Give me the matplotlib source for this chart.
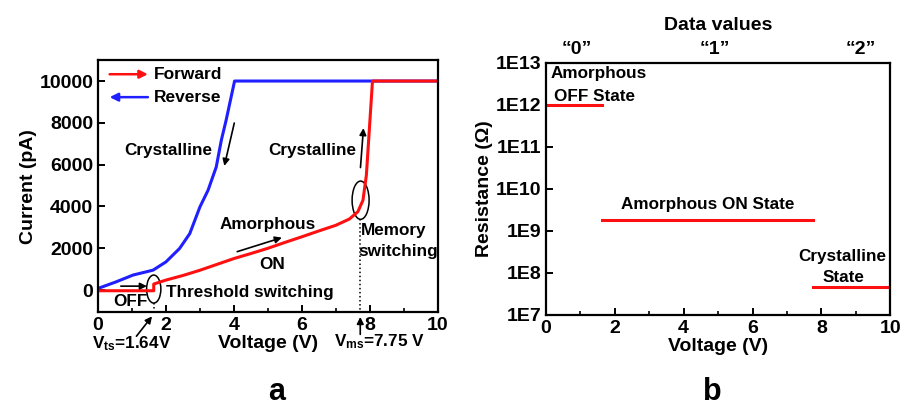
import matplotlib
matplotlib.use('Agg')
import matplotlib.pyplot as plt
import numpy as np
from matplotlib.patches import Ellipse

plt.rcParams['font.family'] = ['Liberation Sans', 'DejaVu Sans']
plt.rcParams['font.weight'] = 'bold'
plt.rcParams['mathtext.fontset'] = 'custom'
plt.rcParams['mathtext.rm'] = 'Liberation Sans:bold'
plt.rcParams['mathtext.default'] = 'rm'

# forward sweep (red)
fwd_v = [0, 0.5, 1.0, 1.5, 1.64, 1.64, 2.0, 2.5, 3.0, 3.5, 4.0, 4.5, 5.0, 5.5,
         6.0, 6.5, 7.0, 7.4, 7.65, 7.8, 7.9, 8.0, 8.08, 10]
fwd_i = [-30, -30, -30, -30, -30, 290, 480, 700, 950, 1230, 1510, 1750, 2000, 2280,
         2550, 2830, 3100, 3400, 3750, 4300, 5500, 8000, 10000, 10000]

# reverse sweep (blue)
rev_v = [0, 0.54, 1.03, 1.62, 2.0, 2.4, 2.7, 3.0, 3.24, 3.48, 3.63, 3.77, 4.02, 10]
rev_i = [80, 400, 720, 955, 1350, 1990, 2700, 3980, 4780, 5890, 7170, 8120, 10000, 10000]

# resistance states
state_v0 = [0, 1.64, 7.75]
state_v1 = [1.64, 7.75, 10]
state_r = [1e12, 1.8e9, 4.5e7]

v_ts = 1.64
v_ms = 7.75
data_labels = ['\u201c0\u201d', '\u201c1\u201d', '\u201c2\u201d']
data_label_v = [0.9, 4.9, 9.15]
r_ticks = [1e7, 1e8, 1e9, 1e10, 1e11, 1e12, 1e13]
r_ticklabels = ['1E7', '1E8', '1E9', '1E10', '1E11', '1E12', '1E13']

fig = plt.figure(figsize=(9.01, 4.09), dpi=100)
ax = fig.add_axes([0.1088, 0.237, 0.377, 0.616])
ax2 = fig.add_axes([0.606, 0.230, 0.382, 0.617])

for a in (ax, ax2):
    for s in a.spines.values():
        s.set_linewidth(1.6)
    a.tick_params(direction='in', width=1.4, length=5, labelsize=14)
    a.tick_params(which='minor', direction='in', width=1.2, length=3)
    a.set_xlim(0, 10)
    a.set_xticks([0, 2, 4, 6, 8, 10])
    a.set_xticks([1, 3, 5, 7, 9], minor=True)
    a.set_xlabel('Voltage (V)', fontsize=14, fontweight='bold', labelpad=1)

# ---- panel a
ax.plot(rev_v, rev_i, color='#1f1fff', lw=2.2)
ax.plot(fwd_v, fwd_i, color='#ff1010', lw=2.2)
ax.set_ylim(-1050, 11000)
ax.set_yticks([0, 2000, 4000, 6000, 8000, 10000])
ax.set_ylabel('Current (pA)', fontsize=14, fontweight='bold', labelpad=2)

# legend
ax.annotate('', xy=(0.155, 0.944), xytext=(0.026, 0.944), xycoords='axes fraction',
            arrowprops=dict(arrowstyle='-|>', color='#ff1010', lw=1.8, mutation_scale=12))
ax.annotate('', xy=(0.026, 0.853), xytext=(0.155, 0.853), xycoords='axes fraction',
            arrowprops=dict(arrowstyle='-|>', color='#1f1fff', lw=1.8, mutation_scale=12))
ax.text(0.163, 0.944, 'Forward', transform=ax.transAxes, fontsize=12.5, va='center')
ax.text(0.163, 0.853, 'Reverse', transform=ax.transAxes, fontsize=12.5, va='center')

tk = dict(fontsize=12.3, fontweight='bold')
ax.text(2.06, 6690, 'Crystalline', ha='center', va='center', **tk)
ax.text(6.32, 6690, 'Crystalline', ha='center', va='center', **tk)
ax.text(5.0, 3140, 'Amorphous', ha='center', va='center', **tk)
ax.text(5.13, 1240, 'ON', ha='center', va='center', **tk)
ax.text(0.96, -560, 'OFF', ha='center', va='center', **tk)
ax.text(2.01, -110, 'Threshold switching', ha='left', va='center', **tk)
ax.text(7.75, 2830, 'Memory', ha='left', va='center', **tk)
ax.text(7.65, 1830, 'switching', ha='left', va='center', **tk)

arr = dict(arrowstyle='-|>', color='black', lw=1.2, mutation_scale=10)
ax.annotate('', xy=(3.70, 5810), xytext=(4.03, 8120), arrowprops=arr)
ax.annotate('', xy=(7.82, 7880), xytext=(7.72, 5730), arrowprops=arr)
ax.annotate('', xy=(5.49, 2550), xytext=(4.02, 1800), arrowprops=arr)
ax.annotate('', xy=(1.52, 190), xytext=(0.59, 190), arrowprops=arr)
ax.annotate('', xy=(v_ts, -1150), xytext=(1.08, -2310), arrowprops=arr,
            annotation_clip=False)
ax.annotate('', xy=(v_ms - 0.03, -1150), xytext=(v_ms - 0.03, -2250), arrowprops=arr,
            annotation_clip=False)

ax.add_patch(Ellipse((v_ts, 50), 0.42, 1340, fill=False, ec='black', lw=1.1))
ax.add_patch(Ellipse((v_ms - 0.02, 4300), 0.5, 1830, fill=False, ec='black', lw=1.1))
ax.plot([v_ms - 0.03, v_ms - 0.03], [3400, -1050], ls=':', color='black', lw=1.1)
ax.plot([v_ts, v_ts], [-600, -1050], ls=':', color='black', lw=1.1)

ax.text(1.0, -2550, 'V$_{ts}$=1.64V', ha='center', va='center', fontsize=12.3,
        clip_on=False)
ax.text(8.28, -2470, 'V$_{ms}$=7.75 V', ha='center', va='center', fontsize=12.3,
        clip_on=False)

fig.text(277 / 901, 1.5 / 409, 'a', fontsize=22, fontweight='bold',
         ha='center', va='bottom')

# ---- panel b
for v0, v1, r in zip(state_v0, state_v1, state_r):
    ax2.plot([v0, v1], [r, r], color='#ff1010', lw=2.2)
ax2.set_yscale('log')
ax2.set_ylim(1e7, 1e13)
ax2.set_yticks(r_ticks)
ax2.set_yticklabels(r_ticklabels)
ax2.yaxis.set_minor_locator(matplotlib.ticker.NullLocator())
ax2.set_ylabel('Resistance (\u03a9)', fontsize=14, fontweight='bold', labelpad=2)

ax2.text(0.12, 10 ** 12.73, 'Amorphous', ha='left', va='center', **tk)
ax2.text(0.23, 10 ** 12.19, 'OFF State', ha='left', va='center', **tk)
ax2.text(4.71, 10 ** 9.62, 'Amorphous ON State', ha='center', va='center', **tk)
ax2.text(8.62, 10 ** 8.40, 'Crystalline', ha='center', va='center', **tk)
ax2.text(8.64, 10 ** 7.88, 'State', ha='center', va='center', **tk)

for v, lab in zip(data_label_v, data_labels):
    ax2.text(v, 10 ** 13.3, lab, ha='center', va='center', fontsize=14,
             clip_on=False)
ax2.text(5.0, 10 ** 13.87, 'Data values', ha='center', va='center', fontsize=14,
         clip_on=False)

fig.text(712 / 901, 1.5 / 409, 'b', fontsize=22, fontweight='bold',
         ha='center', va='bottom')

fig.savefig('out.png', dpi=100)
